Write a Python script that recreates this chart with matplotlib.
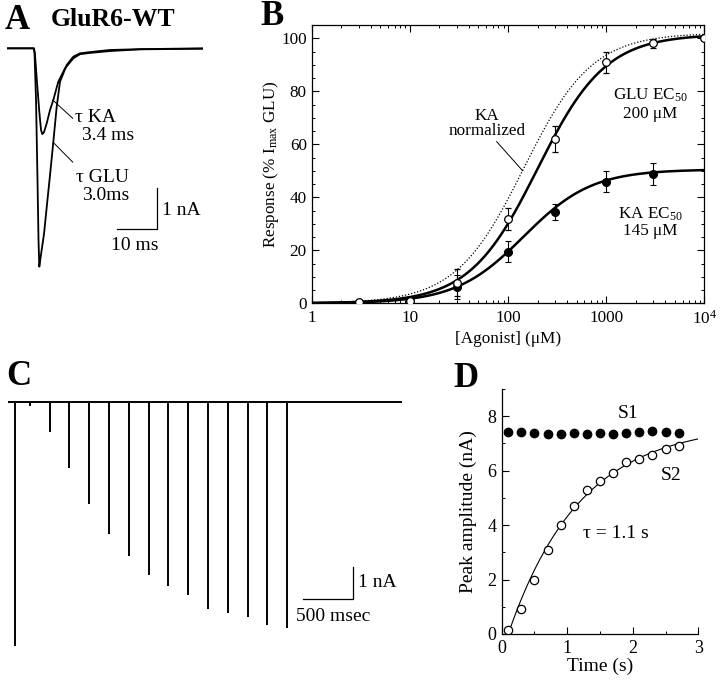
import numpy as np
import matplotlib
matplotlib.use("Agg")
import matplotlib.pyplot as plt
from matplotlib.ticker import MultipleLocator, LogLocator, NullFormatter

plt.rcParams["font.family"] = ["Liberation Serif", "DejaVu Serif"]
plt.rcParams["mathtext.fontset"] = "custom"
plt.rcParams["mathtext.rm"] = "Liberation Serif"
plt.rcParams["mathtext.it"] = "Liberation Serif:italic"
plt.rcParams["mathtext.bf"] = "Liberation Serif:bold"
plt.rcParams["font.size"] = 12.3
plt.rcParams["axes.linewidth"] = 0.9

# panel A: current traces (ms, nA)
glu_t = [0, 6.7, 6.95, 7.33, 7.7, 7.95, 8.15, 8.5, 9.33, 10.08, 10.83, 11.65,
         12.5, 13.33, 15.0, 16.65, 18.33, 20.8, 25.8, 33.3, 49.0]
glu_i = [0, 0, -0.09, -1.24, -3.16, -4.6, -5.24, -5.0, -4.45, -3.74, -3.04, -2.25,
         -1.4, -0.8, -0.4, -0.2, -0.12, -0.09, -0.04, -0.02, 0]
ka_t = [0, 6.83, 7.08, 7.5, 8.15, 8.58, 8.9, 9.33, 10.0, 10.83, 11.65, 12.9,
        14.58, 16.65, 18.33, 20.8, 25.8, 33.3, 49.0]
ka_i = [0, 0, -0.16, -0.72, -1.52, -1.96, -2.06, -2.01, -1.8, -1.48, -1.24, -0.8,
        -0.48, -0.24, -0.14, -0.11, -0.065, -0.024, -0.01]

# panel B: dose-response
glu_conc = [3, 10, 30, 100, 300, 1000, 3000, 10000]
glu_resp = [0.4, 1.0, 7.8, 31.8, 62.0, 91.0, 98.1, 100.0]
glu_err = [0, 0, 5.0, 4.0, 5.0, 4.0, 1.6, 0]
ka_conc = [3, 10, 30, 100, 300, 1000, 3000]
ka_resp = [0.3, 0.8, 6.0, 19.5, 34.3, 45.9, 48.8]
ka_err = [0, 0, 4.5, 4.0, 3.0, 4.0, 4.0]
glu_ec50 = 200
ka_ec50 = 145
hill = 1.25
glu_top = 101.5
ka_top = 50.5
ka_norm_top = 102.0

# panels C and D: paired pulse recovery
intervals = [0.1, 0.3, 0.5, 0.7, 0.9, 1.1, 1.3, 1.5, 1.7, 1.9, 2.1, 2.3, 2.5, 2.7]
s1_amp = [7.42, 7.43, 7.39, 7.33, 7.36, 7.39, 7.36, 7.39, 7.36, 7.37, 7.42, 7.45, 7.42, 7.39]
s2_amp = [0.13, 0.92, 2.0, 3.1, 4.02, 4.71, 5.29, 5.62, 5.91, 6.31, 6.44, 6.58, 6.81, 6.89]
tau = 1.1
fit_amp = 7.72
fit_t0 = 0.1
s1_time = -0.05

big = 14

fig = plt.figure(figsize=(7.2, 6.84), dpi=100)

# ---- A ----
axA = fig.add_axes([6.7 / 720, 1 - 270 / 684, 196.3 / 720, 230 / 684])
axA.plot(glu_t, glu_i, color="k", lw=1.3)
axA.plot(ka_t, ka_i, color="k", lw=1.3)
axA.set_xlim(0, 49.07)
axA.set_ylim(-5.32, 0.2)
axA.axis("off")
axA.plot([16.5, 11.5], [-1.68, -1.24], color="k", lw=0.7)
axA.plot([16.5, 11.65], [-2.73, -2.26], color="k", lw=0.7)
axA.text(17.1, -1.76, "τ KA", ha="left", va="baseline", fontsize=big)
axA.text(18.75, -2.2, "3.4 ms", ha="left", va="baseline", fontsize=big)
axA.text(17.3, -3.2, "τ GLU", ha="left", va="baseline", fontsize=big)
axA.text(18.75, -3.64, "3.0ms", ha="left", va="baseline", fontsize=big)
axA.plot([27.5, 37.5, 37.5], [-4.34, -4.34, -3.34], color="k", lw=0.9)
axA.text(38.75, -4.0, "1 nA", ha="left", va="baseline", fontsize=big)
axA.text(32.0, -4.85, "10 ms", ha="center", va="baseline", fontsize=big)

# ---- B ----
axB = fig.add_axes([311.7 / 720, 1 - 303.3 / 684, 392.6 / 720, 278.3 / 684])
xs = np.logspace(0, 4, 400)
axB.plot(xs, ka_norm_top / (1 + (ka_ec50 / xs) ** hill), color="k", lw=0.9, ls=(0, (1, 1.5)))
axB.plot(xs, glu_top / (1 + (glu_ec50 / xs) ** hill), color="k", lw=1.8)
axB.plot(xs, ka_top / (1 + (ka_ec50 / xs) ** hill), color="k", lw=1.8)
axB.errorbar(ka_conc, ka_resp, yerr=ka_err, fmt="o", color="k", mfc="k", mec="k",
             ms=5.5, elinewidth=0.8, capsize=2, capthick=0.8, zorder=3)
axB.errorbar(glu_conc, glu_resp, yerr=glu_err, fmt="o", color="k", mfc="white", mec="k",
             ms=5.5, mew=0.9, elinewidth=0.8, capsize=2, capthick=0.8, zorder=4)
axB.set_xscale("log")
axB.set_xlim(1, 1e4)
axB.set_ylim(0, 105)
axB.set_xticks([1, 10, 100, 1000, 10000], ["1", "10", "100", "1000", "$10^4$"])
axB.xaxis.set_minor_locator(LogLocator(base=10, subs=np.arange(2, 10)))
axB.xaxis.set_minor_formatter(NullFormatter())
axB.yaxis.set_major_locator(MultipleLocator(20))
axB.yaxis.set_minor_locator(MultipleLocator(5))
axB.tick_params(which="both", direction="in", top=True, right=True)
axB.tick_params(which="major", length=5, width=0.8)
axB.tick_params(which="minor", length=2.5, width=0.7)
axB.tick_params(axis="x", pad=5)
axB.set_ylabel("Response (% I$_{\\mathrm{max}}$ GLU)", labelpad=0)
axB.set_xlabel("[Agonist] (μM)", labelpad=2)
axB.text(60.7, 69.2, "KA", ha="center", va="baseline")
axB.text(60.7, 63.5, "normalized", ha="center", va="baseline")
axB.plot([76.7, 141], [61, 50], color="k", lw=0.7)
axB.text(2800, 76.7, "GLU EC$_{50}$", ha="center", va="baseline")
axB.text(2800, 69.8, "200 μM", ha="center", va="baseline")
axB.text(2820, 32.1, "KA EC$_{50}$", ha="center", va="baseline")
axB.text(2820, 25.8, "145 μM", ha="center", va="baseline")

# ---- C ----
axC = fig.add_axes([8 / 720, 1 - 655 / 684, 393.7 / 720, 260 / 684])
axC.axhline(0, color="k", lw=1.4)
axC.vlines([s1_time], [-max(s1_amp)], 0, color="k", lw=1.4)
axC.vlines(intervals, [-a for a in s2_amp], 0, color="k", lw=1.4)
axC.set_xlim(-0.121, 3.856)
axC.set_ylim(-7.73, 0.22)
axC.axis("off")
axC.plot([2.859, 3.361, 3.361], [-6.03, -6.03, -5.03], color="k", lw=0.9)
axC.text(3.417, -5.64, "1 nA", ha="left", va="baseline", fontsize=big)
axC.text(3.165, -6.68, "500 msec", ha="center", va="baseline", fontsize=big)

# ---- D ----
axD = fig.add_axes([501.7 / 720, 1 - 634 / 684, 196.6 / 720, 245 / 684])
tt = np.linspace(fit_t0, 3, 200)
axD.plot(tt, fit_amp * (1 - np.exp(-(tt - fit_t0) / tau)), color="k", lw=0.8)
axD.plot(intervals, s1_amp, "o", color="k", ms=6, zorder=3)
axD.plot(intervals, s2_amp, "o", mfc="white", mec="k", mew=0.9, ms=6, zorder=3)
axD.set_xlim(0, 3)
axD.set_ylim(0, 9)
axD.spines["top"].set_visible(False)
axD.spines["right"].set_visible(False)
axD.xaxis.set_major_locator(MultipleLocator(1))
axD.xaxis.set_minor_locator(MultipleLocator(0.5))
axD.yaxis.set_major_locator(MultipleLocator(2))
axD.yaxis.set_minor_locator(MultipleLocator(1))
axD.tick_params(which="both", direction="in", labelsize=13)
axD.tick_params(which="major", length=5, width=0.8, pad=4)
axD.tick_params(which="minor", length=2.5, width=0.7)
axD.set_xlabel("Time (s)", labelpad=1, fontsize=big)
axD.set_ylabel("Peak amplitude (nA)", labelpad=7, fontsize=big)
axD.text(1.93, 7.95, "S1", ha="center", va="baseline", fontsize=big)
axD.text(2.58, 5.66, "S2", ha="center", va="baseline", fontsize=big)
axD.text(1.745, 3.52, "τ = 1.1 s", ha="center", va="baseline", fontsize=big)

# panel letters
fig.text(5 / 720, 1 - 29.3 / 684, "A", fontsize=25, fontweight="bold")
fig.text(50.7 / 720, 1 - 26 / 684, "GluR6-WT", fontsize=18.5, fontweight="bold")
fig.text(260 / 720, 1 - 25 / 684, "B", fontsize=25, fontweight="bold")
fig.text(6.7 / 720, 1 - 385 / 684, "C", fontsize=25, fontweight="bold")
fig.text(453 / 720, 1 - 387 / 684, "D", fontsize=25, fontweight="bold")

fig.savefig("out.png", dpi=100)
